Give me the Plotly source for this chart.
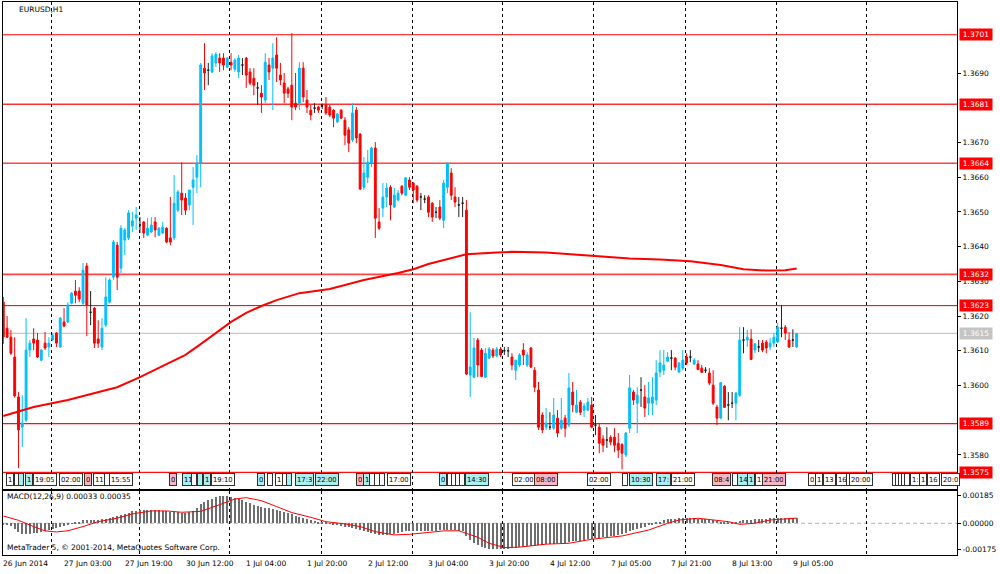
import plotly.graph_objects as go

# ------------------------------------------------------------------ data
time_labels = ["26 Jun 2014", "27 Jun 03:00", "27 Jun 19:00", "30 Jun 12:00", "1 Jul 04:00",
               "1 Jul 20:00", "2 Jul 12:00", "3 Jul 04:00", "3 Jul 20:00", "4 Jul 12:00",
               "7 Jul 05:00", "7 Jul 21:00", "8 Jul 13:00", "9 Jul 05:00"]
time_label_bars = [0, 16, 32, 48, 64, 80, 96, 112, 128, 144, 160, 176, 192, 208]

open_ = [1.36240, 1.36165, 1.36139, 1.36082, 1.35967, 1.35880, 1.35900, 1.36102, 1.36134, 1.36131,
         1.36073, 1.36122, 1.36111, 1.36131, 1.36151, 1.36111, 1.36183, 1.36183, 1.36237, 1.36272,
         1.36272, 1.36237, 1.36344, 1.36211, 1.36223, 1.36134, 1.36111, 1.36174, 1.36240, 1.36312,
         1.36404, 1.36338, 1.36419, 1.36425, 1.36459, 1.36482, 1.36462, 1.36471, 1.36433, 1.36442,
         1.36471, 1.36433, 1.36439, 1.36453, 1.36425, 1.36425, 1.36505, 1.36554, 1.36540, 1.36520,
         1.36571, 1.36600, 1.36641, 1.36914, 1.36908, 1.36903, 1.36929, 1.36943, 1.36943, 1.36917,
         1.36931, 1.36911, 1.36903, 1.36923, 1.36943, 1.36903, 1.36885, 1.36857, 1.36842, 1.36822,
         1.36923, 1.36914, 1.36952, 1.36894, 1.36871, 1.36854, 1.36865, 1.36813, 1.36813, 1.36914,
         1.36822, 1.36793, 1.36799, 1.36802, 1.36805, 1.36808, 1.36802, 1.36793, 1.36759, 1.36793,
         1.36764, 1.36736, 1.36707, 1.36793, 1.36724, 1.36571, 1.36600, 1.36641, 1.36684, 1.36471,
         1.36511, 1.36543, 1.36571, 1.36514, 1.36534, 1.36574, 1.36548, 1.36592, 1.36583, 1.36574,
         1.36543, 1.36537, 1.36543, 1.36525, 1.36499, 1.36514, 1.36476, 1.36571, 1.36612, 1.36543,
         1.36520, 1.36525, 1.36505, 1.36030, 1.36024, 1.36131, 1.36102, 1.36024, 1.36079, 1.36102,
         1.36085, 1.36105, 1.36100, 1.36100, 1.36082, 1.36044, 1.36059, 1.36102, 1.36059, 1.36108,
         1.36044, 1.35987, 1.35915, 1.35880, 1.35880, 1.35877, 1.35906, 1.35877, 1.35906, 1.35886,
         1.35981, 1.35923, 1.35952, 1.35929, 1.35929, 1.35944, 1.35886, 1.35880, 1.35846, 1.35843,
         1.35851, 1.35851, 1.35834, 1.35830, 1.35800, 1.35877, 1.35981, 1.35949, 1.35987, 1.35967,
         1.35949, 1.35949, 1.35958, 1.36039, 1.36044, 1.36070, 1.36079, 1.36079, 1.36039, 1.36050,
         1.36082, 1.36082, 1.36062, 1.36062, 1.36050, 1.36044, 1.36036, 1.36001, 1.35938, 1.35906,
         1.35998, 1.35944, 1.35949, 1.35949, 1.35972, 1.36131, 1.36131, 1.36134, 1.36102, 1.36111,
         1.36122, 1.36125, 1.36111, 1.36122, 1.36125, 1.36165, 1.36168, 1.36131, 1.36131, 1.36111]
high = [1.36255, 1.36200, 1.36160, 1.36139, 1.35981, 1.35972, 1.36194, 1.36131, 1.36165, 1.36151,
        1.36105, 1.36154, 1.36139, 1.36150, 1.36154, 1.36197, 1.36223, 1.36240, 1.36269, 1.36304,
        1.36283, 1.36353, 1.36353, 1.36272, 1.36226, 1.36188, 1.36194, 1.36312, 1.36309, 1.36419,
        1.36413, 1.36462, 1.36453, 1.36505, 1.36500, 1.36514, 1.36485, 1.36474, 1.36482, 1.36485,
        1.36485, 1.36456, 1.36471, 1.36456, 1.36543, 1.36606, 1.36563, 1.36643, 1.36554, 1.36563,
        1.36629, 1.36664, 1.36929, 1.36986, 1.36929, 1.36957, 1.36960, 1.36957, 1.36957, 1.36946,
        1.36957, 1.36943, 1.36952, 1.36943, 1.36946, 1.36914, 1.36914, 1.36874, 1.36865, 1.36957,
        1.36943, 1.36986, 1.37003, 1.36929, 1.36900, 1.36860, 1.37015, 1.36900, 1.36931, 1.36931,
        1.36851, 1.36808, 1.36813, 1.36805, 1.36812, 1.36831, 1.36808, 1.36796, 1.36785, 1.36796,
        1.36773, 1.36744, 1.36813, 1.36802, 1.36727, 1.36658, 1.36678, 1.36687, 1.36701, 1.36511,
        1.36583, 1.36583, 1.36577, 1.36569, 1.36563, 1.36577, 1.36600, 1.36600, 1.36586, 1.36577,
        1.36554, 1.36548, 1.36548, 1.36528, 1.36514, 1.36534, 1.36592, 1.36643, 1.36626, 1.36571,
        1.36543, 1.36543, 1.36534, 1.36211, 1.36137, 1.36137, 1.36108, 1.36108, 1.36111, 1.36108,
        1.36111, 1.36111, 1.36111, 1.36111, 1.36093, 1.36073, 1.36093, 1.36122, 1.36096, 1.36111,
        1.36053, 1.36010, 1.35923, 1.35935, 1.35923, 1.35964, 1.35929, 1.35964, 1.35915, 1.36036,
        1.36010, 1.35987, 1.35958, 1.35949, 1.35964, 1.35967, 1.35915, 1.35892, 1.35857, 1.35880,
        1.35857, 1.35877, 1.35863, 1.35834, 1.35866, 1.36030, 1.35987, 1.35995, 1.36024, 1.36001,
        1.36010, 1.36024, 1.36073, 1.36102, 1.36102, 1.36096, 1.36102, 1.36082, 1.36067, 1.36102,
        1.36093, 1.36102, 1.36079, 1.36073, 1.36059, 1.36053, 1.36050, 1.36044, 1.35944, 1.36010,
        1.36001, 1.35981, 1.35981, 1.35981, 1.36168, 1.36168, 1.36160, 1.36162, 1.36122, 1.36131,
        1.36131, 1.36131, 1.36137, 1.36151, 1.36180, 1.36232, 1.36174, 1.36154, 1.36162, 1.36151]
low = [1.36120, 1.36137, 1.36088, 1.35965, 1.35762, 1.35823, 1.35895, 1.36082, 1.36102, 1.36079,
       1.36070, 1.36102, 1.36082, 1.36128, 1.36111, 1.36108, 1.36168, 1.36180, 1.36234, 1.36237,
       1.36240, 1.36232, 1.36142, 1.36174, 1.36108, 1.36108, 1.36102, 1.36168, 1.36237, 1.36304,
       1.36275, 1.36324, 1.36376, 1.36419, 1.36442, 1.36448, 1.36439, 1.36425, 1.36430, 1.36439,
       1.36427, 1.36430, 1.36436, 1.36410, 1.36404, 1.36419, 1.36499, 1.36491, 1.36491, 1.36505,
       1.36462, 1.36554, 1.36571, 1.36851, 1.36865, 1.36900, 1.36917, 1.36903, 1.36908, 1.36914,
       1.36908, 1.36903, 1.36885, 1.36894, 1.36857, 1.36865, 1.36836, 1.36808, 1.36785, 1.36813,
       1.36880, 1.36793, 1.36874, 1.36865, 1.36813, 1.36828, 1.36764, 1.36793, 1.36793, 1.36816,
       1.36785, 1.36764, 1.36785, 1.36785, 1.36796, 1.36779, 1.36773, 1.36744, 1.36756, 1.36767,
       1.36692, 1.36672, 1.36701, 1.36698, 1.36563, 1.36563, 1.36583, 1.36629, 1.36425, 1.36448,
       1.36485, 1.36514, 1.36476, 1.36511, 1.36531, 1.36548, 1.36546, 1.36563, 1.36525, 1.36528,
       1.36505, 1.36525, 1.36485, 1.36471, 1.36482, 1.36476, 1.36453, 1.36554, 1.36534, 1.36514,
       1.36485, 1.36485, 1.36030, 1.35967, 1.36021, 1.36024, 1.36024, 1.36021, 1.36076, 1.36079,
       1.36082, 1.36082, 1.36088, 1.36082, 1.36044, 1.36016, 1.36053, 1.36059, 1.36053, 1.36050,
       1.35981, 1.35872, 1.35863, 1.35872, 1.35872, 1.35872, 1.35851, 1.35872, 1.35851, 1.35880,
       1.35923, 1.35921, 1.35915, 1.35909, 1.35926, 1.35877, 1.35857, 1.35805, 1.35808, 1.35820,
       1.35828, 1.35808, 1.35791, 1.35758, 1.35794, 1.35863, 1.35944, 1.35863, 1.35938, 1.35909,
       1.35915, 1.35915, 1.35944, 1.36024, 1.36030, 1.36067, 1.36044, 1.36044, 1.36036, 1.36044,
       1.36059, 1.36067, 1.36059, 1.36044, 1.36036, 1.36036, 1.36001, 1.35944, 1.35886, 1.35904,
       1.35935, 1.35900, 1.35935, 1.35900, 1.35967, 1.36093, 1.36111, 1.36073, 1.36093, 1.36096,
       1.36096, 1.36093, 1.36102, 1.36111, 1.36122, 1.36139, 1.36131, 1.36108, 1.36111, 1.36108]
close = [1.36140, 1.36139, 1.36093, 1.35970, 1.35872, 1.35892, 1.36102, 1.36122, 1.36122, 1.36082,
         1.36102, 1.36108, 1.36122, 1.36145, 1.36122, 1.36194, 1.36171, 1.36232, 1.36266, 1.36260,
         1.36249, 1.36332, 1.36232, 1.36211, 1.36122, 1.36122, 1.36165, 1.36255, 1.36304, 1.36413,
         1.36312, 1.36453, 1.36448, 1.36497, 1.36474, 1.36491, 1.36462, 1.36439, 1.36453, 1.36462,
         1.36448, 1.36453, 1.36456, 1.36413, 1.36413, 1.36525, 1.36557, 1.36534, 1.36505, 1.36563,
         1.36592, 1.36641, 1.36923, 1.36900, 1.36908, 1.36949, 1.36954, 1.36929, 1.36923, 1.36943,
         1.36923, 1.36937, 1.36943, 1.36923, 1.36894, 1.36871, 1.36865, 1.36857, 1.36831, 1.36931,
         1.36903, 1.36943, 1.36914, 1.36880, 1.36842, 1.36842, 1.36802, 1.36802, 1.36914, 1.36831,
         1.36802, 1.36779, 1.36799, 1.36793, 1.36805, 1.36785, 1.36779, 1.36770, 1.36782, 1.36770,
         1.36721, 1.36698, 1.36785, 1.36713, 1.36566, 1.36612, 1.36643, 1.36684, 1.36482, 1.36453,
         1.36543, 1.36569, 1.36520, 1.36548, 1.36554, 1.36554, 1.36598, 1.36571, 1.36563, 1.36534,
         1.36543, 1.36537, 1.36499, 1.36485, 1.36499, 1.36482, 1.36583, 1.36641, 1.36548, 1.36528,
         1.36520, 1.36525, 1.36033, 1.36053, 1.36108, 1.36059, 1.36026, 1.36093, 1.36105, 1.36085,
         1.36105, 1.36088, 1.36100, 1.36100, 1.36059, 1.36073, 1.36088, 1.36088, 1.36088, 1.36053,
         1.35995, 1.35880, 1.35872, 1.35892, 1.35880, 1.35915, 1.35863, 1.35900, 1.35877, 1.35993,
         1.35944, 1.35944, 1.35923, 1.35941, 1.35952, 1.35880, 1.35886, 1.35834, 1.35828, 1.35843,
         1.35837, 1.35828, 1.35814, 1.35805, 1.35863, 1.35993, 1.35958, 1.35972, 1.35987, 1.35935,
         1.35964, 1.35967, 1.36036, 1.36065, 1.36059, 1.36082, 1.36079, 1.36053, 1.36065, 1.36073,
         1.36065, 1.36082, 1.36073, 1.36046, 1.36038, 1.36044, 1.36007, 1.35949, 1.35906, 1.36008,
         1.35937, 1.35944, 1.35949, 1.35978, 1.36131, 1.36131, 1.36139, 1.36075, 1.36120, 1.36111,
         1.36102, 1.36108, 1.36122, 1.36139, 1.36168, 1.36165, 1.36151, 1.36111, 1.36131, 1.36150]

ma_bars = [0, 8, 17, 25, 30, 36, 41, 48, 52, 56, 60, 64, 68, 72, 78, 86, 95, 104, 108, 112,
           117, 122, 130, 134, 143, 149, 155, 159, 165, 173, 181, 189, 195, 201, 206, 209]
ma_values = [1.35912, 1.35938, 1.35958, 1.35981, 1.35995, 1.36024, 1.36050, 1.36088, 1.36119, 1.36151,
             1.36183, 1.36209, 1.36229, 1.36246, 1.36266, 1.36278, 1.36304, 1.36324, 1.36335, 1.36350,
             1.36364, 1.36378, 1.36383, 1.36385, 1.36383, 1.36378, 1.36374, 1.36371, 1.36366, 1.36363,
             1.36358, 1.36347, 1.36335, 1.36331, 1.36332, 1.36337]

macd_main = [-0.00005, -0.00010, -0.00020, -0.00040, -0.00058, -0.00070, -0.00072, -0.00070, -0.00067, -0.00063,
             -0.00058, -0.00054, -0.00048, -0.00040, -0.00034, -0.00026, -0.00020, -0.00012, -0.00004, 0.00004,
             0.00012, 0.00020, 0.00020, 0.00021, 0.00022, 0.00023, 0.00026, 0.00030, 0.00035, 0.00040,
             0.00048, 0.00057, 0.00064, 0.00072, 0.00080, 0.00085, 0.00088, 0.00090, 0.00091, 0.00090,
             0.00089, 0.00087, 0.00085, 0.00082, 0.00079, 0.00077, 0.00074, 0.00071, 0.00070, 0.00074,
             0.00085, 0.00100, 0.00128, 0.00145, 0.00157, 0.00166, 0.00174, 0.00180, 0.00183, 0.00181,
             0.00176, 0.00170, 0.00163, 0.00155, 0.00146, 0.00135, 0.00124, 0.00116, 0.00108, 0.00104,
             0.00100, 0.00095, 0.00090, 0.00082, 0.00076, 0.00068, 0.00060, 0.00052, 0.00045, 0.00037,
             0.00030, 0.00020, 0.00014, 0.00010, 0.00007, 0.00003, -0.00001, -0.00005, -0.00010, -0.00018,
             -0.00023, -0.00028, -0.00032, -0.00036, -0.00044, -0.00050, -0.00058, -0.00068, -0.00074, -0.00077,
             -0.00078, -0.00077, -0.00074, -0.00070, -0.00064, -0.00058, -0.00054, -0.00051, -0.00050, -0.00050,
             -0.00050, -0.00050, -0.00050, -0.00050, -0.00049, -0.00047, -0.00045, -0.00044, -0.00045, -0.00047,
             -0.00050, -0.00055, -0.00085, -0.00112, -0.00130, -0.00147, -0.00160, -0.00167, -0.00172, -0.00174,
             -0.00175, -0.00174, -0.00172, -0.00170, -0.00167, -0.00163, -0.00160, -0.00156, -0.00153, -0.00150,
             -0.00148, -0.00146, -0.00144, -0.00142, -0.00140, -0.00137, -0.00135, -0.00132, -0.00129, -0.00126,
             -0.00122, -0.00119, -0.00116, -0.00112, -0.00108, -0.00104, -0.00101, -0.00098, -0.00094, -0.00090,
             -0.00086, -0.00082, -0.00078, -0.00072, -0.00064, -0.00054, -0.00045, -0.00037, -0.00030, -0.00022,
             -0.00014, -0.00005, 0.00004, 0.00011, 0.00020, 0.00026, 0.00030, 0.00032, 0.00034, 0.00034,
             0.00035, 0.00035, 0.00034, 0.00032, 0.00030, 0.00027, 0.00024, 0.00020, 0.00016, 0.00012,
             0.00009, 0.00008, 0.00008, 0.00009, 0.00015, 0.00019, 0.00022, 0.00025, 0.00027, 0.00029,
             0.00030, 0.00031, 0.00033, 0.00034, 0.00036, 0.00037, 0.00037, 0.00036, 0.00035, 0.00033]

signal_bars = [0, 4, 8, 11, 14, 17, 21, 25, 30, 34, 39, 43, 47, 52, 56, 61, 64, 68, 72, 76,
               81, 85, 90, 94, 98, 103, 107, 112, 116, 120, 125, 128, 132, 136, 143, 149, 155, 163,
               170, 175, 178, 183, 186, 191, 194, 198, 202, 209]
signal_values = [0.00049, 0.00020, -0.00022, -0.00051, -0.00058, -0.00050, -0.00022, 0.00011, 0.00034, 0.00063,
                 0.00083, 0.00083, 0.00074, 0.00080, 0.00116, 0.00163, 0.00172, 0.00152, 0.00112, 0.00072,
                 0.00040, 0.00011, -0.00004, -0.00022, -0.00056, -0.00078, -0.00074, -0.00063, -0.00051, -0.00050,
                 -0.00094, -0.00134, -0.00163, -0.00160, -0.00140, -0.00134, -0.00107, -0.00085,
                 -0.00045, 0.00000, 0.00022, 0.00034, 0.00027, 0.00011, -0.00007, 0.00000, 0.00022, 0.00035]

levels = [1.3701, 1.3681, 1.3664, 1.3632, 1.3623, 1.3589, 1.3575]
bid_price = 1.3615
price_ticks = [1.3580, 1.3600, 1.3610, 1.3620, 1.3630, 1.3640, 1.3650, 1.3660, 1.3670, 1.3690]
macd_ticks = [0.00185, 0.00000, -0.00175]

# economic-calendar strip: (bar position, label, kind)  w=white p=pink c=cyan
events = [(0.7, "1", "w"), (2.8, " ", "w"), (3.9, " ", "c"), (5.7, "1", "c"), (7.8, "19:05", "w"),
          (14.7, "02:00", "w"), (21.3, "0", "p"), (23.6, "11", "w"), (26.5, " ", "w"), (27.8, "15:55", "w"),
          (43.6, "0", "p"), (47.1, "11:", "c"), (49.5, " ", "w"), (51.0, " ", "c"), (52.6, "1", "c"),
          (54.7, "19:10", "w"), (66.8, "0", "c"), (69.5, " ", "w"), (71.6, "1", "w"), (73.4, " ", "w"),
          (74.6, " ", "c"), (76.8, "17:3", "c"), (82.1, "22:00", "c"), (92.9, "0", "p"), (94.8, "1", "c"),
          (96.3, " ", "w"), (97.7, " ", "w"), (99.0, " ", "w"), (101.1, "17:00", "w"), (114.8, "0", "c"),
          (116.9, " ", "w"), (117.9, " ", "w"), (119.0, " ", "w"), (120.0, " ", "w"), (121.6, "14:30", "c"),
          (134.0, "02:00", "w"), (139.8, "08:00", "p"), (153.8, "02:00", "w"), (163.0, " ", "w"),
          (164.8, "10:30", "c"), (171.9, "17:", "c"), (175.9, "21:00", "w"), (186.7, "08:4", "p"),
          (192.0, " ", "w"), (193.3, "14", "c"), (195.9, "1", "c"), (198.0, "1", "w"), (199.9, "21:00", "p"),
          (212.0, "0", "w"), (213.8, "1", "w"), (215.9, "13", "w"), (219.4, "16", "w"), (222.0, " ", "w"),
          (222.8, "20:00", "w"), (234.1, " ", "w"), (234.9, " ", "w"), (235.7, " ", "w"), (236.5, " ", "w"),
          (237.3, " ", "w"), (238.9, "1:", "w"), (241.2, "1", "w"), (243.3, "16", "w"), (247.0, "20:0", "w")]

# ------------------------------------------------------------------ style
BULL = "#00BFFF"
BEAR = "#FF0000"
DOJI = "#202020"
FONT = "DejaVu Sans"
grid_positions = [12.75, 35.8, 59.7, 83.9, 107.7, 131.6, 155.6, 179.6, 203.6, 227.3]
x_range = [-0.08, 251.24]
event_bg = {"w": "#FFFFFF", "p": "#F7B8C4", "c": "#A9EEF0"}
level_styles = [("#FF0000", 1.1), ("#FF3030", 1.6), ("#FF4545", 1.6), ("#FF4545", 1.6),
                ("#E00000", 1.0), ("#FF1010", 1.3), ("#FF1010", 1.3)]

bars = list(range(len(open_)))
groups = {"bull": [], "bear": [], "doji": []}
for i in bars:
    if close[i] > open_[i]:
        groups["bull"].append(i)
    elif close[i] < open_[i]:
        groups["bear"].append(i)
    else:
        groups["doji"].append(i)

fig = go.Figure()
for key, col in (("bull", BULL), ("bear", BEAR), ("doji", DOJI)):
    idx = groups[key]
    fig.add_trace(go.Candlestick(
        x=idx,
        open=[open_[i] for i in idx], high=[high[i] for i in idx],
        low=[low[i] for i in idx], close=[close[i] for i in idx],
        increasing=dict(line=dict(color=col, width=1), fillcolor=col),
        decreasing=dict(line=dict(color=col, width=1), fillcolor=col),
        whiskerwidth=0, xaxis="x", yaxis="y", hoverinfo="skip", showlegend=False))

fig.add_trace(go.Scatter(x=ma_bars, y=ma_values, mode="lines",
                         line=dict(color="#FF0000", width=2), xaxis="x", yaxis="y",
                         hoverinfo="skip", showlegend=False))

fig.add_trace(go.Bar(x=bars, y=macd_main, width=0.3, marker=dict(color="#6E6E6E", line=dict(width=0)),
                     xaxis="x2", yaxis="y2", hoverinfo="skip", showlegend=False))
fig.add_trace(go.Scatter(x=signal_bars, y=signal_values, mode="lines",
                         line=dict(color="#FF0000", width=1), xaxis="x2", yaxis="y2",
                         hoverinfo="skip", showlegend=False))

shapes = []
for lv, (lc, lw) in zip(levels, level_styles):
    shapes.append(dict(type="line", xref="x domain", x0=0, x1=1, yref="y", y0=lv, y1=lv,
                       line=dict(color=lc, width=lw), layer="below"))
shapes.append(dict(type="line", xref="x domain", x0=0, x1=1, yref="y", y0=bid_price, y1=bid_price,
                   line=dict(color="#C8C8C8", width=1.2), layer="below"))
shapes.append(dict(type="line", xref="x2 domain", x0=0, x1=1, yref="y2", y0=0, y1=0,
                   line=dict(color="#B4B4B4", width=1, dash="4px,3px"), layer="below"))

annotations = []
for lv in levels:
    annotations.append(dict(xref="paper", x=1, xshift=2, xanchor="left", yref="y", y=lv, yanchor="middle",
                            text=f"{lv:.4f}", showarrow=False, bgcolor="#FF0000", width=30, height=9,
                            borderpad=1, font=dict(family=FONT, size=7.5, color="white")))
annotations.append(dict(xref="paper", x=1, xshift=2, xanchor="left", yref="y", y=bid_price, yanchor="middle",
                        text=f"{bid_price:.4f}", showarrow=False, bgcolor="#C4C4C4", width=30, height=9,
                        borderpad=1, font=dict(family=FONT, size=7.5, color="white")))
for pos, lab, kind in events:
    annotations.append(dict(xref="x", x=pos, xanchor="left", yref="y domain", y=0.0205, yanchor="middle",
                            text=lab, showarrow=False, bgcolor=event_bg[kind], bordercolor="#303030",
                            borderwidth=1, borderpad=1, height=9,
                            font=dict(family=FONT, size=6.8, color="black")))
for b, lab in zip(time_label_bars, time_labels):
    annotations.append(dict(xref="x2", x=b, xshift=-2, xanchor="left", yref="paper", y=-0.0145,
                            yanchor="middle", text=lab, showarrow=False,
                            font=dict(family=FONT, size=7.5, color="black")))
annotations.append(dict(xref="paper", x=0.0147, xanchor="left", yref="paper", y=0.9873, yanchor="middle",
                        text="EURUSD,H1", showarrow=False, font=dict(family=FONT, size=7.5, color="black")))
annotations.append(dict(xref="paper", x=0.002, xanchor="left", yref="paper", y=0.1049, yanchor="middle",
                        text=f"MACD(12,26,9) {macd_main[-1]:.5f} {signal_values[-1]:.5f}", showarrow=False,
                        font=dict(family=FONT, size=7.5, color="black")))
annotations.append(dict(xref="paper", x=0.002, xanchor="left", yref="paper", y=0.0127, yanchor="middle",
                        text="MetaTrader 5, © 2001-2014, MetaQuotes Software Corp.", showarrow=False,
                        font=dict(family=FONT, size=7.5, color="black")))

frame = dict(showline=True, mirror=True, linecolor="black", linewidth=1, zeroline=False)
grid_x = dict(range=x_range, tickvals=grid_positions, showticklabels=False, ticks="",
              showgrid=True, gridcolor="black", gridwidth=1, griddash="3px,3px", **frame)

fig.update_layout(
    width=1000, height=574,
    margin=dict(l=3, r=43, t=2, b=19),
    paper_bgcolor="white", plot_bgcolor="white",
    showlegend=False, bargap=0,
    font=dict(family=FONT, size=7.5, color="black"),
    xaxis=dict(domain=[0, 1], anchor="y", rangeslider=dict(visible=False), **grid_x),
    yaxis=dict(domain=[0.11935, 1], anchor="x", side="right", range=[1.3570192, 1.3710448],
               tickvals=price_ticks, ticktext=[f"{v:.4f}" for v in price_ticks],
               ticks="outside", ticklen=3, tickcolor="black", showgrid=False, **frame),
    xaxis2=dict(domain=[0, 1], anchor="y2", matches="x", **grid_x),
    yaxis2=dict(domain=[0, 0.11573], anchor="x2", side="right", range=[-0.002127, 0.002167],
                tickvals=macd_ticks, ticktext=[f"{v:.5f}" for v in macd_ticks],
                ticks="outside", ticklen=3, tickcolor="black", showgrid=False, **frame),
    xaxis3=dict(overlaying="x2", anchor="y2", range=x_range, tickvals=time_label_bars,
                ticks="outside", ticklen=3, tickcolor="black", showticklabels=False,
                showgrid=False, showline=False, zeroline=False),
    shapes=shapes, annotations=annotations,
)

fig.write_html("out.html", config={"displayModeBar": False},
               post_script="document.body.style.margin='0px';")
